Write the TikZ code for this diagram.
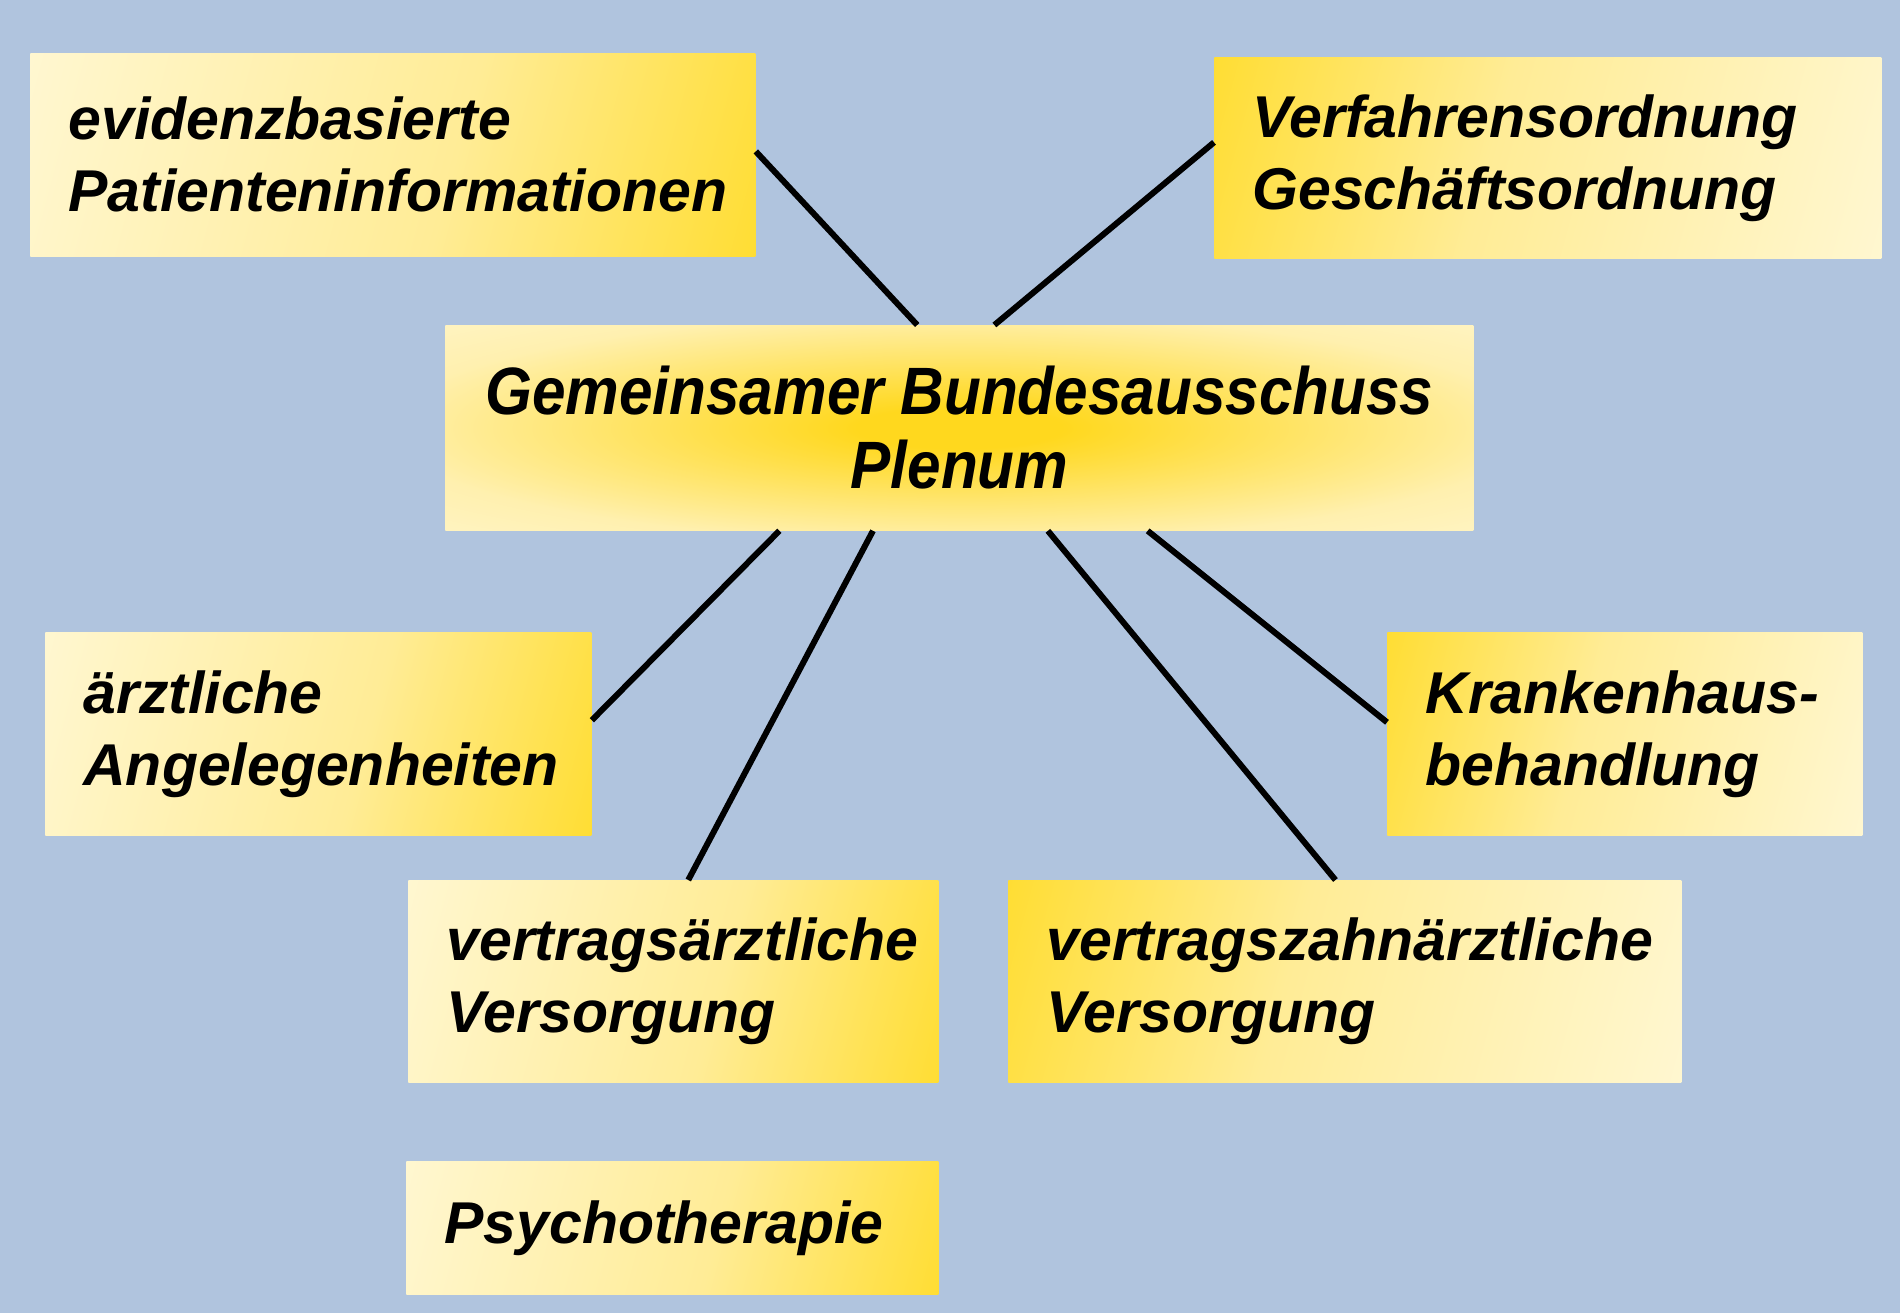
\documentclass[tikz,border=0pt]{standalone}
\usepackage{fontspec}
\setmainfont{Liberation Sans}
\newfontfamily\centerfont{Liberation Sans}[FakeStretch=0.9]
\usetikzlibrary{calc}
\definecolor{bgblue}{RGB}{176,196,222}
\definecolor{cream}{RGB}{255,249,220}
\definecolor{ymid}{RGB}{255,236,150}
\definecolor{ylight}{RGB}{255,240,175}
\definecolor{gold}{RGB}{255,216,16}
\definecolor{cgold}{RGB}{255,216,30}
\pgfdeclarehorizontalshading{gradLG}{100bp}{color(0bp)=(cream); color(12bp)=(cream); color(55bp)=(ymid); color(90bp)=(gold); color(100bp)=(gold)}
\pgfdeclarehorizontalshading{gradGL}{100bp}{color(0bp)=(gold); color(10bp)=(gold); color(45bp)=(ymid); color(88bp)=(cream); color(100bp)=(cream)}
\pgfdeclareradialshading{gradC}{\pgfpoint{0bp}{0bp}}{color(0bp)=(cgold); color(5bp)=(cgold); color(28bp)=(ylight); color(48bp)=(cream); color(100bp)=(cream)}
\tikzset{
  boxbase/.style={draw=none, anchor=north west, inner xsep=19pt, inner ysep=0pt,
    align=left, text=black, font=\bfseries\itshape\fontsize{29.5}{36}\selectfont},
  boxA/.style={boxbase, shading=gradLG, shading angle=-15},
  boxB/.style={boxbase, shading=gradGL, shading angle=-15},
  cbox/.style={draw=none, anchor=north west, inner sep=0pt, align=center, text=black,
    shading=gradC,
    font=\centerfont\bfseries\itshape\fontsize{33.5}{37}\selectfont},
  conn/.style={draw=black, line width=3pt}
}
\begin{document}
\begin{tikzpicture}[x=0.5pt,y=-0.5pt]
\useasboundingbox (0,0) rectangle (1900,1313);
\fill[bgblue] (0,0) rectangle (1900,1313);

\node[boxA, text width=324.5pt, minimum height=101.5pt] (b1) at (30,53) {evidenzbasierte\\Patienteninformationen};
\node[boxB, text width=295.5pt, minimum height=100.5pt] (b2) at (1214,57) {Verfahrensordnung\\Geschäftsordnung};
\node[cbox, minimum width=514pt, minimum height=102.5pt] (c) at (445,325) {Gemeinsamer Bundesausschuss\\Plenum};
\node[boxA, text width=235pt, minimum height=101.5pt] (b4) at (45,632) {ärztliche\\Angelegenheiten};
\node[boxB, text width=199.5pt, minimum height=101.5pt] (b5) at (1387,632) {Krankenhaus-\\behandlung};
\node[boxA, text width=227pt, minimum height=101pt] (b6) at (408,880) {vertragsärztliche\\Versorgung};
\node[boxB, text width=298.5pt, minimum height=101pt] (b7) at (1008,880) {vertragszahnärztliche\\Versorgung};
\node[boxA, text width=228pt, minimum height=66.5pt] (b8) at (406,1161) {Psychotherapie};

\draw[conn] ($(b1.north east)!0.483!(b1.south east)$) -- ($(c.north west)!0.459!(c.north east)$);
\draw[conn] ($(b2.north west)!0.423!(b2.south west)$) -- ($(c.north west)!0.534!(c.north east)$);
\draw[conn] ($(c.south west)!0.325!(c.south east)$) -- ($(b4.north east)!0.433!(b4.south east)$);
\draw[conn] ($(c.south west)!0.416!(c.south east)$) -- ($(b6.north west)!0.528!(b6.north east)$);
\draw[conn] ($(c.south west)!0.586!(c.south east)$) -- ($(b7.north west)!0.486!(b7.north east)$);
\draw[conn] ($(c.south west)!0.683!(c.south east)$) -- ($(b5.north west)!0.443!(b5.south west)$);
\end{tikzpicture}
\end{document}
